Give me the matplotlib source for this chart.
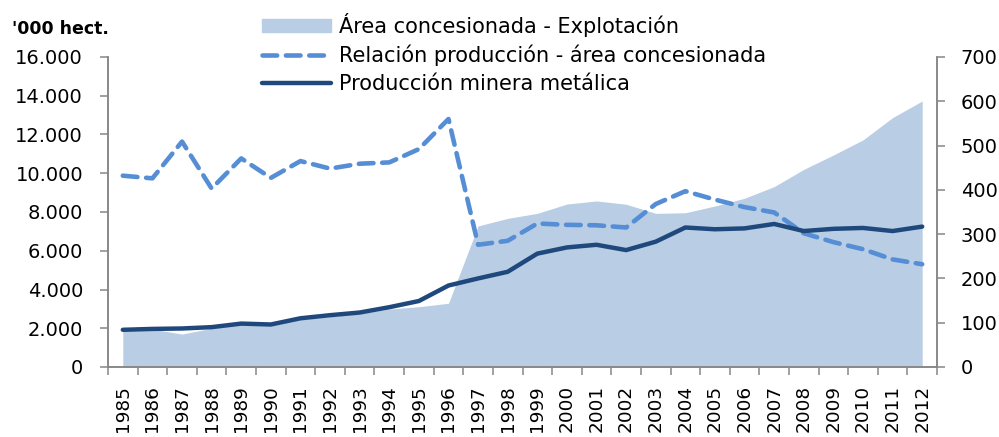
import matplotlib
matplotlib.use("Agg")
import matplotlib.pyplot as plt
import numpy as np
from matplotlib.ticker import FuncFormatter, FixedLocator

years = [str(y) for y in range(1985, 2013)]

# Área concesionada - Explotación ('000 hect., left axis)
area = [1880, 1950, 1700, 2000, 2200, 2150, 2450, 2600, 2750, 2990, 3110, 3290,
        7280, 7670, 7930, 8410, 8570, 8400, 7930, 7960, 8310, 8710, 9310, 10200,
        10940, 11720, 12870, 13730]

# Relación producción - área concesionada (right axis)
relacion = [432, 426, 509, 403, 471, 427, 465, 448, 459, 462, 492, 560,
            276, 285, 324, 321, 320, 315, 368, 397, 378, 361, 349, 302,
            282, 266, 243, 232]

# Producción minera metálica (right axis)
produccion = [84, 86, 87, 90, 98, 96, 110, 117, 123, 135, 149, 184,
              200, 215, 256, 270, 276, 264, 283, 315, 311, 313, 323, 307,
              312, 314, 307, 317]

left_ticks = list(range(0, 16001, 2000))
right_ticks = list(range(0, 701, 100))

c_area = "#B9CDE5"
c_rel = "#558ED5"
c_prod = "#1F497D"
c_axis = "#868686"
fs = 14

plt.rcParams["font.family"] = ["DejaVu Sans"]

fig = plt.figure(figsize=(9.99, 4.37), dpi=100)
ax = fig.add_axes([108/999, 1-367/437, (937-108)/999, (367-57)/437])
ax2 = ax.twinx()

x = np.arange(len(years))
ax.fill_between(x, area, 0, color=c_area, linewidth=0,
                label="Área concesionada - Explotación")
l1, = ax2.plot(x, relacion, color=c_rel, lw=3.3, linestyle=(0, (3.2, 1.9)),
               dash_capstyle="round", label="Relación producción - área concesionada")
l2, = ax2.plot(x, produccion, color=c_prod, lw=3.2, solid_capstyle="round",
               solid_joinstyle="round", label="Producción minera metálica")

ax.set_xlim(-0.5, len(years) - 0.5)
ax.set_ylim(0, 16000)
ax2.set_ylim(0, 700)

ax.set_xticks(x)
ax.set_xticklabels(years, rotation=90, fontsize=13.3, va="top")
ax.xaxis.set_minor_locator(FixedLocator(np.arange(-0.5, len(years), 1.0)))
ax.tick_params(axis="x", which="major", length=0, pad=13)
ax.tick_params(axis="x", which="minor", length=5.5, width=1.1, color=c_axis, direction="out")

ax.set_yticks(left_ticks)
ax.yaxis.set_major_formatter(FuncFormatter(lambda v, p: f"{v:,.0f}".replace(",", ".")))
ax.tick_params(axis="y", length=6, width=1.1, color=c_axis, labelsize=fs, pad=12)
ax2.set_yticks(right_ticks)
ax2.tick_params(axis="y", length=6, width=1.1, color=c_axis, labelsize=fs, pad=11)

for a in (ax, ax2):
    a.spines["top"].set_visible(False)
    for s in ("left", "right", "bottom"):
        a.spines[s].set_color(c_axis)
        a.spines[s].set_linewidth(1.1)

fig.text(12/999, 1-28.5/437, "'000 hect.", fontsize=12.5, fontweight="bold",
         ha="left", va="center")

handles = [plt.Rectangle((0, 0), 1, 1, color=c_area), l1, l2]
labels = ["Área concesionada - Explotación",
          "Relación producción - área concesionada",
          "Producción minera metálica"]
fig.legend(handles, labels, loc="upper left", bbox_to_anchor=(262/999, 1-13/437),
           frameon=False, fontsize=15, borderpad=0, borderaxespad=0,
           handlelength=3.3, handleheight=0.6, handletextpad=0.4, labelspacing=0.37)

fig.savefig("out.png", dpi=100)
